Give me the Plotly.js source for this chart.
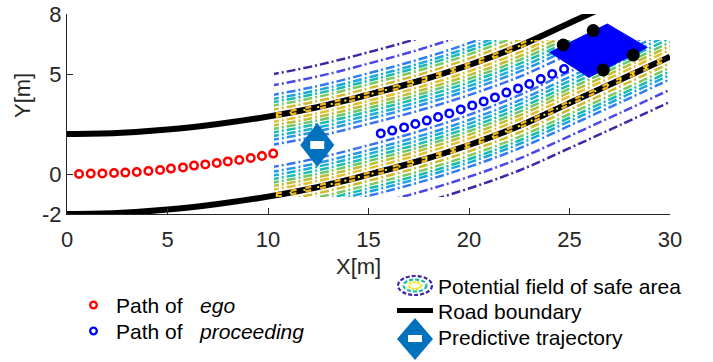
<!DOCTYPE html>
<html><head><meta charset="utf-8">
<script src="https://cdn.plot.ly/plotly-3.0.1.min.js"></script>
<style>html,body{margin:0;padding:0;background:#fff;}#chart{width:713px;height:362px;}</style>
</head><body><div id="chart"></div>
<script>
// ---------------- data ----------------
const boundX = [0, 2.5, 5, 7.5, 10, 12.5, 15, 17.5, 20, 22.5, 25, 27.5, 30];
const lowerY = [-2, -1.95, -1.78, -1.5, -1.13, -0.65, -0.03, 0.65, 1.45, 2.4, 3.55, 4.7, 5.87];
const roadWidth = 4.0;

const egoX = [0.6, 1.18, 1.76, 2.34, 2.9, 3.47, 4.05, 4.63, 5.17, 5.77, 6.32, 6.88, 7.45, 8.0, 8.57, 9.14, 9.7, 10.26];
const egoY = [0, 0.02, 0.03, 0.05, 0.07, 0.1, 0.15, 0.2, 0.27, 0.33, 0.42, 0.48, 0.55, 0.63, 0.7, 0.8, 0.9, 1.02];

const procX = [15.61, 16.18, 16.77, 17.33, 17.9, 18.46, 19.02, 19.59, 20.16, 20.73, 21.29, 21.86, 22.44, 23.0, 23.57, 24.14, 24.73];
const procY = [2.03, 2.17, 2.33, 2.5, 2.67, 2.85, 3.03, 3.23, 3.43, 3.63, 3.83, 4.07, 4.28, 4.5, 4.75, 5.0, 5.25];

const vehX = [24.0, 26.88, 28.87, 25.94];
const vehY = [6.07, 7.5, 6.33, 4.82];
const wheelX = [24.69, 26.18, 28.17, 26.68];
const wheelY = [6.45, 7.17, 5.95, 5.2];

const predX = [12.45];
const predY = [1.45];

// potential-field contour region and levels (offsets from a boundary, m)
const fieldX = [10.3, 30];
const fieldY = [-1.15, 6.7];
const outerOffsets = [2.05, 1.5, 1.03, 0.83, 0.67, 0.5, 0.3];
const outerColors  = ['#3E26A8', '#4A48E8', '#2F7CF4', '#1AA7DC', '#17BBB0', '#7CC95E', '#CDBB2D'];
const innerOffsets = [1.42, 1.18, 1.0, 0.82, 0.65, 0.48, 0.3];
const innerColors  = ['#3772F0', '#2596EA', '#1AAFD6', '#1ABDAF', '#6AC66A', '#B9BE35', '#E2BF2D'];

const xTicks = [0, 5, 10, 15, 20, 25, 30];
const yTicks = [-2, 0, 5, 8];
const yTickText = ['-2', '0', '5', '8'];

// ---------------- geometry helpers ----------------
const PL = 67, PR = 670, PT = 14, PB = 214;
const px = x => (x - PL) / (PR - PL);
const py = y => (PB - y) / (PB - PT);
const FONT = 'Liberation Sans, Arial, Helvetica, sans-serif';

const upperY = lowerY.map(v => v + roadWidth);
function slopeFactor(i) {
  const n = boundX.length, a = Math.max(0, i - 1), b = Math.min(n - 1, i + 1);
  const s = (lowerY[b] - lowerY[a]) / (boundX[b] - boundX[a]);
  return Math.sqrt(1 + s * s);
}

const traces = [];
// road boundaries (bottom subplot)
[lowerY, upperY].forEach(by => traces.push({
  x: boundX, y: by, mode: 'lines', xaxis: 'x', yaxis: 'y', hoverinfo: 'skip', showlegend: false,
  line: {color: '#000000', width: 6, shape: 'spline'}
}));

// contour lines (clipped subplot)
const DASH = '9px,3px,2px,3px';
function addLine(base, sign, d, color) {
  traces.push({
    x: boundX, y: base.map((v, i) => v + sign * d * slopeFactor(i)),
    mode: 'lines', xaxis: 'x2', yaxis: 'y2', hoverinfo: 'skip', showlegend: false,
    line: {color: color, width: 2.5, dash: DASH, shape: 'spline'}
  });
}
outerOffsets.forEach((d, k) => { addLine(upperY, +1, d, outerColors[k]); addLine(lowerY, -1, d, outerColors[k]); });
innerOffsets.forEach((d, k) => { addLine(upperY, -1, d, innerColors[k]); addLine(lowerY, +1, d, innerColors[k]); });
// highest-potential marks sitting on the boundaries
[lowerY, upperY].forEach(by => {
  [-0.09, 0.09].forEach(o => traces.push({
    x: boundX, y: by.map(v => v + o), mode: 'lines', xaxis: 'x2', yaxis: 'y2', hoverinfo: 'skip', showlegend: false,
    line: {color: '#EDB120', width: 2.5, dash: '6px,9px', shape: 'spline'}
  }));
  traces.push({
    x: boundX, y: by, mode: 'lines', xaxis: 'x2', yaxis: 'y2', hoverinfo: 'skip', showlegend: false,
    line: {color: '#F5EF1A', width: 2, dash: '2px,12px', shape: 'spline'}
  });
});

// top subplot: paths, vehicle
traces.push({x: egoX, y: egoY, mode: 'markers', xaxis: 'x3', yaxis: 'y3', showlegend: false, hoverinfo: 'skip',
  marker: {symbol: 'circle', size: 7.5, color: '#FFFFFF', line: {color: '#FF0000', width: 2.5}}});
traces.push({x: procX, y: procY, mode: 'markers', xaxis: 'x3', yaxis: 'y3', showlegend: false, hoverinfo: 'skip',
  marker: {symbol: 'circle', size: 7.5, color: '#FFFFFF', line: {color: '#0000FF', width: 2.5}}});
traces.push({x: vehX, y: vehY, mode: 'lines', fill: 'toself', fillcolor: '#0000FF', xaxis: 'x3', yaxis: 'y3',
  showlegend: false, hoverinfo: 'skip', line: {color: '#0000FF', width: 1}});
traces.push({x: wheelX, y: wheelY, mode: 'markers', xaxis: 'x3', yaxis: 'y3', showlegend: false, hoverinfo: 'skip',
  marker: {symbol: 'circle', size: 13, color: '#000000'}});

// ---------------- shapes & annotations ----------------
const shapes = [];
// predictive trajectory diamond (anchored to data, sized in pixels)
shapes.push({type: 'path', xref: 'x3', yref: 'y3', xsizemode: 'pixel', ysizemode: 'pixel',
  xanchor: predX[0], yanchor: predY[0], path: 'M0,22 L17,0 L0,-22 L-17,0 Z',
  fillcolor: '#0072BD', line: {width: 0}});
shapes.push({type: 'path', xref: 'x3', yref: 'y3', xsizemode: 'pixel', ysizemode: 'pixel',
  xanchor: predX[0], yanchor: predY[0], path: 'M-7,4 L7,4 L7,-4 L-7,-4 Z',
  fillcolor: '#FFFFFF', line: {width: 0}});

// legend icons (paper coordinates)
function circ(cx, cy, rx, ry, color, w, dash, fill) {
  shapes.push({type: 'circle', xref: 'paper', yref: 'paper', x0: px(cx - rx), x1: px(cx + rx), y0: py(cy + ry), y1: py(cy - ry),
    line: {color: color, width: w, dash: dash || 'solid'}, fillcolor: fill || 'rgba(0,0,0,0)'});
}
circ(93.5, 305, 3.3, 3.3, '#FF0000', 2.3, null, '#FFFFFF');
circ(93.5, 331, 3.3, 3.3, '#0000FF', 2.3, null, '#FFFFFF');
circ(415, 285.5, 17, 9.5, '#3E26A8', 2.2, '4px,2px');
circ(415, 285.5, 11.5, 6, '#17BBB0', 2.2, '4px,2px');
circ(415, 285.5, 6, 3.5, '#F5E51A', 2.2, '3px,1px');
shapes.push({type: 'line', xref: 'paper', yref: 'paper', x0: px(397), x1: px(433), y0: py(310.5), y1: py(310.5),
  line: {color: '#000000', width: 5}});
function pth(pts) { return 'M' + pts.map(p => px(p[0]) + ',' + py(p[1])).join(' L') + ' Z'; }
shapes.push({type: 'path', xref: 'paper', yref: 'paper', path: pth([[415, 318], [433, 339], [415, 360], [397, 339]]),
  fillcolor: '#0072BD', line: {width: 0}});
shapes.push({type: 'path', xref: 'paper', yref: 'paper', path: pth([[408, 335], [422, 335], [422, 342], [408, 342]]),
  fillcolor: '#FFFFFF', line: {width: 0}});

const LF = {family: FONT, size: 21, color: '#000000'};
const TF = {family: FONT, size: 22, color: '#262626'};
const annotations = [
  {text: 'Path of&nbsp;&nbsp; <i>ego</i>', x: px(114), y: py(305)},
  {text: 'Path of&nbsp;&nbsp; <i>proceeding</i>', x: px(114), y: py(331)},
  {text: 'Potential field of safe area', x: px(436), y: py(286)},
  {text: 'Road boundary', x: px(436), y: py(311)},
  {text: 'Predictive trajectory', x: px(436), y: py(337)}
].map(a => Object.assign({xref: 'paper', yref: 'paper', xanchor: 'left', yanchor: 'middle', showarrow: false, font: LF}, a));
// axis titles
annotations.push({text: 'X[m]', xref: 'paper', yref: 'paper', x: px(358), y: py(266), xanchor: 'center', yanchor: 'middle',
  showarrow: false, font: TF});
annotations.push({text: 'Y[m]', xref: 'paper', yref: 'paper', x: px(22), y: py(96), xanchor: 'center', yanchor: 'middle',
  textangle: -90, showarrow: false, font: TF});

const axCommon = {showgrid: false, zeroline: false, showline: true, linecolor: '#262626', linewidth: 1,
  ticks: 'inside', ticklen: 6, tickwidth: 1, tickcolor: '#262626',
  tickfont: TF, fixedrange: true};

const layout = {
  width: 713, height: 362, margin: {l: PL, r: 713 - PR, t: PT, b: 362 - PB, pad: 0},
  paper_bgcolor: '#FFFFFF', plot_bgcolor: 'rgba(0,0,0,0)', showlegend: false,
  xaxis: Object.assign({}, axCommon, {domain: [0, 1], range: [0, 30], tickmode: 'array', tickvals: xTicks, anchor: 'y',
    ticklabelstandoff: 6}),
  yaxis: Object.assign({}, axCommon, {domain: [0, 1], range: [-2, 8], tickmode: 'array', tickvals: yTicks, ticktext: yTickText, anchor: 'x'}),
  xaxis2: {domain: [fieldX[0] / 30, fieldX[1] / 30], range: fieldX, visible: false, anchor: 'y2', fixedrange: true},
  yaxis2: {domain: [(fieldY[0] + 2) / 10, (fieldY[1] + 2) / 10], range: fieldY, visible: false, anchor: 'x2', fixedrange: true},
  xaxis3: {domain: [0, 1], range: [0, 30], visible: false, anchor: 'y3', fixedrange: true},
  yaxis3: {domain: [0, 1], range: [-2, 8], visible: false, anchor: 'x3', fixedrange: true},
  shapes: shapes, annotations: annotations
};

Plotly.newPlot('chart', traces, layout, {staticPlot: true, displayModeBar: false});
</script>
</body></html>
